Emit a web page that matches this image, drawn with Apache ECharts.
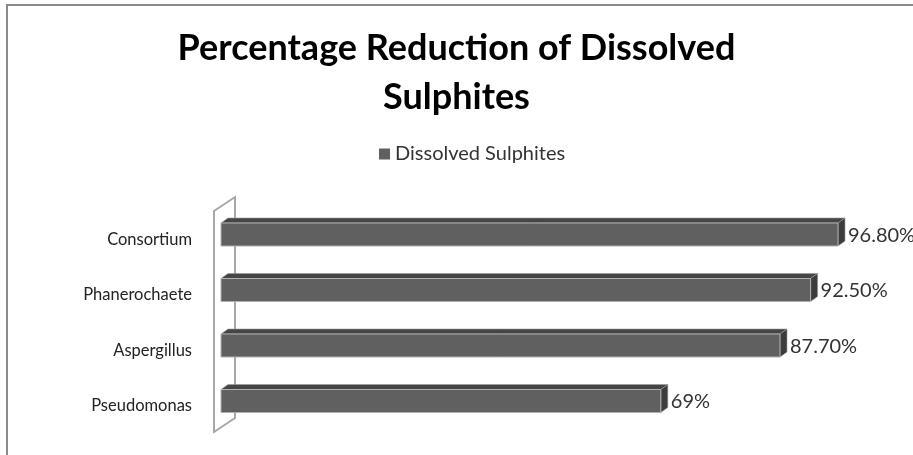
<!DOCTYPE html>
<html>
<head>
<meta charset="utf-8">
<script src="https://cdn.jsdelivr.net/npm/echarts@6/dist/echarts.min.js"></script>
<style>
  html, body { margin: 0; padding: 0; background: #fff; }
  #chart { width: 913px; height: 455px; }
</style>
</head>
<body>
<div id="chart"></div>
<script>
// data
var categories = ['Consortium', 'Phanerochaete', 'Aspergillus', 'Pseudomonas'];
var reduction = [96.8, 92.5, 87.7, 69];
var valueLabels = ['96.80%', '92.50%', '87.70%', '69%'];
var seriesName = 'Dissolved Sulphites';

var FONT = 'Lato';
var DX = 7, DY = 5;     // depth of the 3D bars
var BAR_H = 23;

var chart = echarts.init(document.getElementById('chart'), null, { renderer: 'canvas' });

function renderBar(params, api) {
    var idx = api.value(0);
    var val = api.value(1);
    var p0 = api.coord([0, idx]);
    var p1 = api.coord([val, idx]);
    var x0 = p0[0], x1 = p1[0], yc = p0[1];
    var yt = yc - BAR_H / 2, yb = yc + BAR_H / 2;
    return {
        type: 'group',
        children: [
            {
                type: 'polygon',
                shape: { points: [[x0, yt], [x0 + DX, yt - DY], [x1 + DX, yt - DY], [x1, yt]] },
                style: { fill: '#454545', stroke: '#9a9a9a', lineWidth: 0.6 }
            },
            {
                type: 'polygon',
                shape: { points: [[x1, yt], [x1 + DX, yt - DY], [x1 + DX, yb - DY], [x1, yb]] },
                style: { fill: '#3c3c3c', stroke: '#9a9a9a', lineWidth: 0.6 }
            },
            {
                type: 'rect',
                shape: { x: x0, y: yt, width: x1 - x0, height: BAR_H },
                style: { fill: '#606060', stroke: '#b0b0b0', lineWidth: 1 }
            },
            {
                type: 'text',
                x: x1 + DX + 3,
                y: yc + 1,
                style: {
                    text: valueLabels[idx],
                    fill: '#333',
                    font: '20px ' + FONT,
                    verticalAlign: 'middle',
                    align: 'left'
                }
            }
        ]
    };
}

var option = {
    backgroundColor: '#fff',
    animation: false,
    title: {
        text: 'Percentage Reduction of Dissolved\nSulphites',
        left: 'center',
        top: 19,
        textStyle: {
            fontFamily: FONT,
            fontSize: 36,
            fontWeight: 'bold',
            color: '#000',
            lineHeight: 49
        }
    },
    legend: {
        data: [seriesName],
        top: 139,
        left: 374,
        icon: 'rect',
        itemWidth: 11,
        itemHeight: 11,
        itemGap: 6,
        textStyle: { fontFamily: FONT, fontSize: 20, color: '#333' }
    },
    grid: { left: 221, right: 54.6, top: 206.75, bottom: 26.25, containLabel: false },
    xAxis: {
        type: 'value',
        min: 0,
        max: 100,
        show: false
    },
    yAxis: {
        type: 'category',
        data: categories,
        inverse: true,
        axisLine: { show: false },
        axisTick: { show: false },
        splitLine: { show: false },
        axisLabel: {
            margin: 29,
            formatter: function (v) { return '{a|' + v + '}'; },
            rich: {
                a: {
                    fontFamily: FONT,
                    fontSize: 16.5,
                    color: '#222',
                    padding: [10, 0, 0, 0]
                }
            }
        }
    },
    graphic: [
        {
            type: 'rect',
            z: 0,
            shape: { x: 7, y: 5, width: 1000, height: 600 },
            style: { fill: 'none', stroke: '#8a8a8a', lineWidth: 2 }
        },
        {
            type: 'polygon',
            z: 0,
            shape: { points: [[214, 211], [235, 197], [235, 418], [214, 432]] },
            style: { fill: 'none', stroke: '#a8a8a8', lineWidth: 2 }
        }
    ],
    series: [{
        name: seriesName,
        type: 'custom',
        z: 5,
        itemStyle: { color: '#606060' },
        encode: { x: 1, y: 0 },
        data: reduction.map(function (v, i) { return [i, v]; }),
        renderItem: renderBar
    }]
};

chart.setOption(option);
</script>
</body>
</html>
